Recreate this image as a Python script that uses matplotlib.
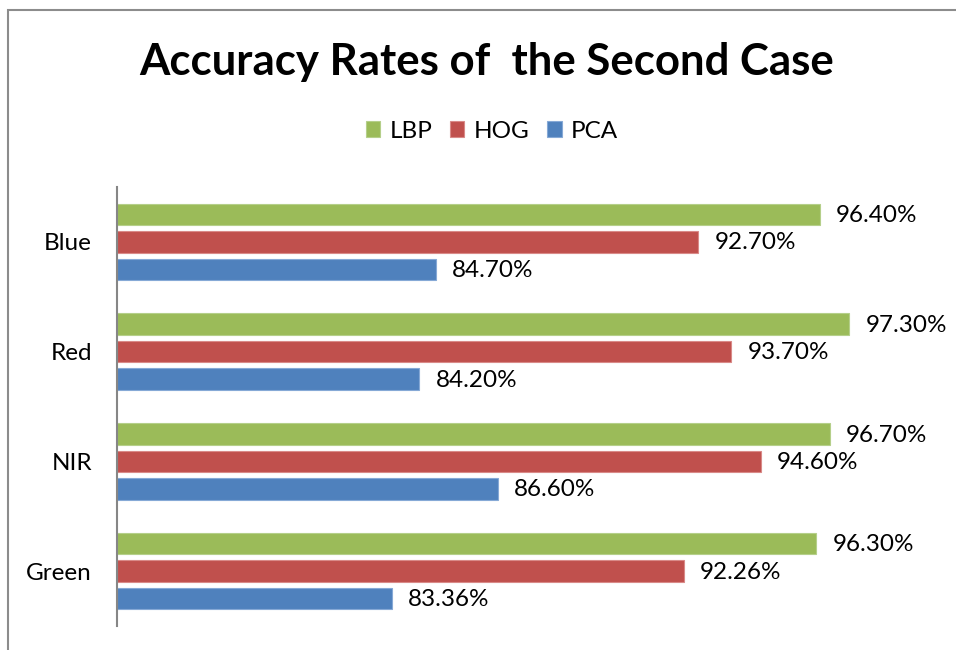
import numpy as np
import matplotlib.pyplot as plt
from matplotlib.patches import Rectangle

plt.rcParams['font.family'] = ['Lato', 'DejaVu Sans']

# data (top to bottom in the chart)
categories = ['Blue', 'Red', 'NIR', 'Green']
series_names = ['LBP', 'HOG', 'PCA']
lbp = [96.40, 97.30, 96.70, 96.30]
hog = [92.70, 93.70, 94.60, 92.26]
pca = [84.70, 84.20, 86.60, 83.36]
colors = ['#9BBB59', '#C0504D', '#4F81BD']
edge_colors = ['#B5CF8A', '#D98A88', '#86A9D6']

fig = plt.figure(figsize=(9.56, 6.5), dpi=100)
ax = fig.add_axes([117 / 956, 1 - 626 / 650, 821 / 956, 439 / 650])

# outer chart border (only left/top visible in the reference)
fig.patches.append(Rectangle((8 / 956, -0.05), 1.2, 1 - 10 / 650 + 0.05,
                             transform=fig.transFigure, fill=False,
                             edgecolor='#8C8C8C', linewidth=1.5))

xmin = 75
y = np.arange(len(categories))
offsets = [-0.25, 0.0, 0.25]
all_series = [lbp, hog, pca]
for vals, off, c, ec, name in zip(all_series, offsets, colors, edge_colors, series_names):
    vals = np.array(vals)
    ax.barh(y + off, vals - xmin, left=xmin, height=0.195, color=c,
            edgecolor=ec, linewidth=0.8, label=name)
    for yi, v in zip(y + off, vals):
        ax.text(v + 0.5, yi + 0.01, f'{v:.2f}%', va='center', ha='left', fontsize=17.5)

ax.set_xlim(xmin, 100)
ax.set_ylim(3.5, -0.5)
ax.set_yticks(y)
ax.set_yticklabels(categories, fontsize=17.5)
ax.tick_params(axis='y', length=0, pad=18)
ax.set_xticks([])
for s in ['top', 'right', 'bottom']:
    ax.spines[s].set_visible(False)
ax.spines['left'].set_color('#868686')
ax.spines['left'].set_linewidth(1.5)

fig.text(487 / 956, 1 - 62 / 650, 'Accuracy Rates of  the Second Case',
         ha='center', va='center', fontsize=31.5, fontweight='bold')

fig.legend(loc='center', bbox_to_anchor=(492 / 956, 1 - 131 / 650), ncol=3,
           frameon=False, fontsize=17.5, handlelength=0.6, handleheight=0.6,
           handletextpad=0.4, columnspacing=0.7)

fig.savefig('out.png', dpi=100)
